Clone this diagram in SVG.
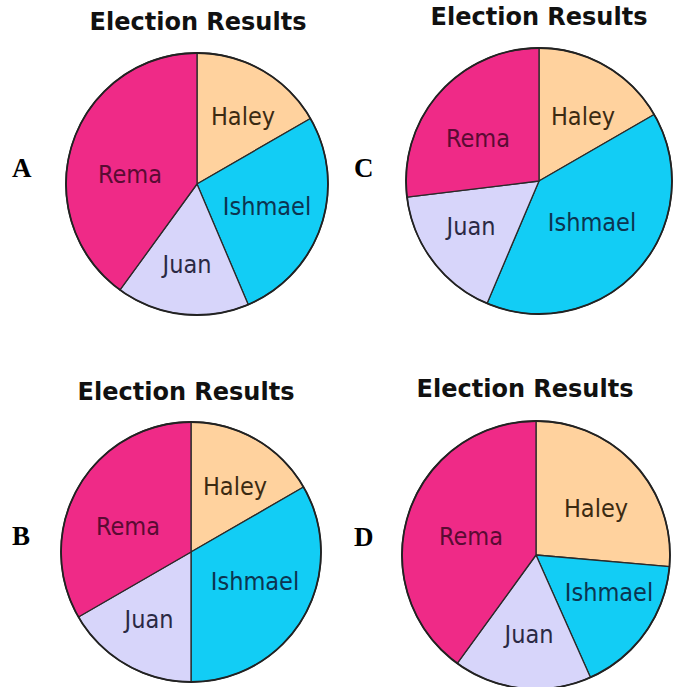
<svg xmlns="http://www.w3.org/2000/svg" width="676" height="687" viewBox="0 0 676 687">
<style>
.title{font-family:"DejaVu Sans","Verdana",sans-serif;font-weight:bold;font-size:24px;fill:#111;text-anchor:middle}
.lbl{font-family:"DejaVu Sans Condensed","DejaVu Sans",sans-serif;font-size:25px;text-anchor:middle}
.letter{font-family:"Liberation Serif","Times New Roman",serif;font-weight:bold;font-size:27px;fill:#000}
.s{stroke:#2a2a2a;stroke-width:1.3;stroke-linejoin:round}
.rim{fill:none;stroke:#222;stroke-width:1.8}
.rema{fill:#EF2A87}
.haley{fill:#FFD29E}
.ish{fill:#12CDF5}
.juan{fill:#D7D5FA}
.tr{fill:#5A0B33}
.th{fill:#3B2A12}
.ti{fill:#0C3450}
.tj{fill:#2A2944}
</style>
<rect width="676" height="687" fill="#fff"/>

<g id="chartA">
<text class="title" x="198" y="30">Election Results</text>
<text class="letter" x="12" y="177">A</text>
<path class="s haley" d="M197,184 L197,53 A131,131 0 0 1 310.45,118.5 Z"/>
<path class="s ish" d="M197,184 L310.45,118.5 A131,131 0 0 1 248.18,304.59 Z"/>
<path class="s juan" d="M197,184 L248.18,304.59 A131,131 0 0 1 120,289.98 Z"/>
<path class="s rema" d="M197,184 L120,289.98 A131,131 0 0 1 197,53 Z"/>
<circle class="rim" cx="197" cy="184" r="131"/>
<text class="lbl th" x="243" y="125">Haley</text>
<text class="lbl tr" x="130" y="183">Rema</text>
<text class="lbl ti" x="267" y="215">Ishmael</text>
<text class="lbl tj" x="187" y="273">Juan</text>
</g>

<g id="chartC">
<text class="title" x="539" y="25">Election Results</text>
<text class="letter" x="354" y="177">C</text>
<path class="s haley" d="M539,181 L539,48 A133,133 0 0 1 654.18,114.5 Z"/>
<path class="s ish" d="M539,181 L654.18,114.5 A133,133 0 0 1 487.03,303.43 Z"/>
<path class="s juan" d="M539,181 L487.03,303.43 A133,133 0 0 1 406.99,197.21 Z"/>
<path class="s rema" d="M539,181 L406.99,197.21 A133,133 0 0 1 539,48 Z"/>
<circle class="rim" cx="539" cy="181" r="133"/>
<text class="lbl th" x="583" y="125">Haley</text>
<text class="lbl tr" x="478" y="147">Rema</text>
<text class="lbl ti" x="592" y="231">Ishmael</text>
<text class="lbl tj" x="471" y="235">Juan</text>
</g>

<g id="chartB">
<text class="title" x="186" y="400">Election Results</text>
<text class="letter" x="12" y="545">B</text>
<path class="s haley" d="M191,552 L191,422 A130,130 0 0 1 303.58,487 Z"/>
<path class="s ish" d="M191,552 L303.58,487 A130,130 0 0 1 191,682 Z"/>
<path class="s juan" d="M191,552 L191,682 A130,130 0 0 1 78.42,617 Z"/>
<path class="s rema" d="M191,552 L78.42,617 A130,130 0 0 1 191,422 Z"/>
<circle class="rim" cx="191" cy="552" r="130"/>
<text class="lbl th" x="235" y="495">Haley</text>
<text class="lbl tr" x="128" y="535">Rema</text>
<text class="lbl ti" x="255" y="590">Ishmael</text>
<text class="lbl tj" x="149" y="628">Juan</text>
</g>

<g id="chartD">
<text class="title" x="525" y="397">Election Results</text>
<text class="letter" x="354" y="546">D</text>
<path class="s haley" d="M536,555 L536,421 A134,134 0 0 1 669.49,566.68 Z"/>
<path class="s ish" d="M536,555 L669.49,566.68 A134,134 0 0 1 590.5,677.41 Z"/>
<path class="s juan" d="M536,555 L590.5,677.41 A134,134 0 0 1 457.23,663.41 Z"/>
<path class="s rema" d="M536,555 L457.23,663.41 A134,134 0 0 1 536,421 Z"/>
<circle class="rim" cx="536" cy="555" r="134"/>
<text class="lbl th" x="596" y="517">Haley</text>
<text class="lbl tr" x="471" y="545">Rema</text>
<text class="lbl ti" x="609" y="601">Ishmael</text>
<text class="lbl tj" x="529" y="643">Juan</text>
</g>
</svg>
